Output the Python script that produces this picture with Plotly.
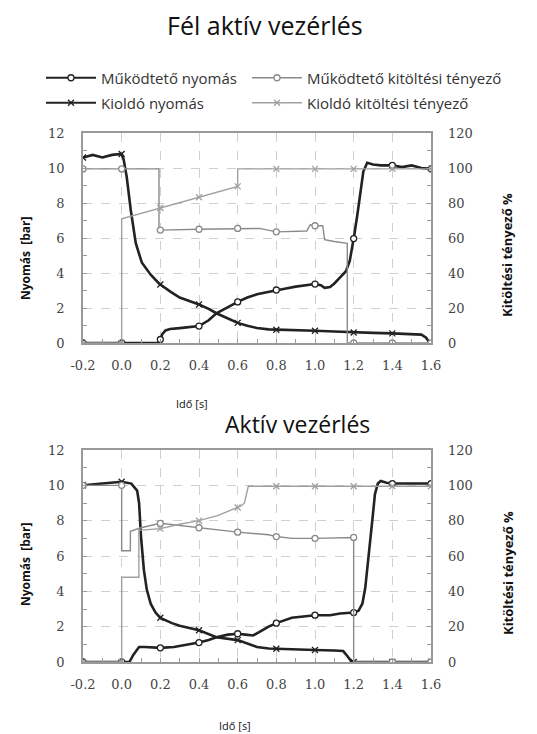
import numpy as np
import plotly.graph_objects as go

# the page body has an 8px default margin; lay the figure out in window pixels
W_WIN, H_WIN = 537, 734
OFF = 8
W, H = W_WIN - OFF, H_WIN - OFF

# ---------------- data ----------------
x_ticks = [-0.2, 0.0, 0.2, 0.4, 0.6, 0.8, 1.0, 1.2, 1.4, 1.6]
x_tick_labels = ["-0.2", "0.0", "0.2", "0.4", "0.6", "0.8", "1.0", "1.2", "1.4", "1.6"]
p_ticks = [0, 2, 4, 6, 8, 10, 12]
d_ticks = [0, 20, 40, 60, 80, 100, 120]

# Fél aktív vezérlés (top)
top_kp_t = [-0.2, -0.15, -0.1, -0.05, 0.0, 0.01, 0.026, 0.047, 0.073, 0.104, 0.15, 0.193, 0.25, 0.3,
            0.35, 0.4, 0.45, 0.49, 0.55, 0.6, 0.65, 0.7, 0.76, 0.8, 0.9, 1.0, 1.1, 1.2, 1.3, 1.4,
            1.5, 1.55, 1.575, 1.59, 1.6]
top_kp_v = [10.6, 10.75, 10.6, 10.75, 10.8, 10.5, 9.5, 7.6, 5.7, 4.6, 3.9, 3.4, 2.95, 2.6,
            2.4, 2.2, 1.95, 1.7, 1.4, 1.15, 0.98, 0.86, 0.78, 0.76, 0.72, 0.7, 0.66, 0.6, 0.58, 0.55,
            0.52, 0.48, 0.3, 0.05, 0.0]

top_mp_t = [-0.2, 0.0, 0.19, 0.2, 0.21, 0.227, 0.25, 0.3, 0.35, 0.4, 0.45, 0.49, 0.55, 0.6, 0.65,
            0.7, 0.75, 0.8, 0.85, 0.9, 0.95, 1.0, 1.03, 1.05, 1.078, 1.1, 1.13, 1.16, 1.18, 1.19,
            1.205, 1.22, 1.235, 1.25, 1.27, 1.3, 1.34, 1.4, 1.45, 1.5, 1.55, 1.6]
top_mp_v = [0, 0, 0, 0.2, 0.5, 0.72, 0.8, 0.85, 0.9, 0.97, 1.3, 1.7, 2.05, 2.35, 2.6,
            2.78, 2.9, 3.03, 3.12, 3.22, 3.3, 3.37, 3.3, 3.15, 3.2, 3.4, 3.75, 4.1, 4.7, 5.3,
            6.3, 7.4, 8.7, 9.8, 10.3, 10.2, 10.15, 10.15, 10.05, 10.15, 10.0, 9.95]

top_md_t = [-0.2, 0.193, 0.193, 0.2, 0.4, 0.6, 0.713, 0.8, 0.957, 0.975, 1.0, 1.04, 1.05, 1.1,
            1.156, 1.167, 1.167, 1.4, 1.6]
top_md_v = [99.5, 99.5, 65, 64.5, 65, 65.5, 65.5, 63.5, 64, 67.5, 67, 67, 59, 58,
            57.5, 57, 0, 0, 0]

top_kd_t = [-0.2, 0.0, 0.0, 0.6, 0.6, 1.6]
top_kd_v = [0, 0, 71, 89.5, 99.5, 99.5]

# Aktív vezérlés (bottom)
bot_kp_t = [-0.2, -0.1, 0.0, 0.05, 0.08, 0.09, 0.1, 0.115, 0.13, 0.15, 0.175, 0.2, 0.26, 0.3,
            0.4, 0.49, 0.6, 0.7, 0.76, 0.8, 0.9, 1.0, 1.1, 1.146, 1.17, 1.19, 1.6]
bot_kp_v = [10.0, 10.1, 10.2, 10.1, 9.7, 9.0, 7.1, 5.2, 4.1, 3.3, 2.8, 2.5, 2.2, 2.05,
            1.8, 1.4, 1.24, 0.85, 0.76, 0.75, 0.7, 0.68, 0.65, 0.62, 0.3, 0.0, 0.0]

bot_mp_t = [-0.2, 0.0, 0.04, 0.06, 0.09, 0.12, 0.2, 0.27, 0.33, 0.4, 0.45, 0.49, 0.55, 0.6, 0.64,
            0.68, 0.72, 0.76, 0.8, 0.88, 1.0, 1.078, 1.13, 1.2, 1.225, 1.245, 1.26, 1.27, 1.286,
            1.3, 1.31, 1.325, 1.34, 1.37, 1.4, 1.5, 1.6]
bot_mp_v = [0, 0, 0, 0.4, 0.85, 0.85, 0.8, 0.85, 0.96, 1.1, 1.25, 1.4, 1.55, 1.6, 1.55,
            1.5, 1.75, 2.0, 2.2, 2.5, 2.65, 2.65, 2.75, 2.8, 2.9, 3.3, 4.2, 5.2, 6.7,
            8.4, 9.5, 10.1, 10.25, 10.15, 10.1, 10.1, 10.1]

bot_md_t = [-0.2, 0.0, 0.0, 0.045, 0.045, 0.1, 0.2, 0.4, 0.6, 0.76, 0.8, 0.88, 1.0, 1.2, 1.2, 1.6]
bot_md_v = [100, 100, 63, 63, 74, 76, 78.5, 76, 73.5, 72, 71, 70, 70, 70.5, 0, 0]

bot_kd_t = [-0.2, 0.0, 0.0, 0.089, 0.089, 0.2, 0.3, 0.4, 0.5, 0.59, 0.62, 0.635, 0.645, 0.655, 1.6]
bot_kd_v = [0, 0, 48, 48, 74.5, 75.5, 78, 80, 83, 87, 88.5, 90, 95, 99.5, 99.5]

names = ["Működtető nyomás", "Működtető kitöltési tényező", "Kioldó nyomás", "Kioldó kitöltési tényező"]

# ---------------- style ----------------
DARK = "#222222"
GRAY = "#8a8a8a"
LGRAY = "#a0a0a0"
styles = {
    "mp": dict(color=DARK, width=2.6, symbol="circle", msize=6, mcolor=DARK),
    "md": dict(color=GRAY, width=1.4, symbol="circle", msize=6, mcolor=GRAY),
    "kp": dict(color=DARK, width=2.6, symbol="x-thin", msize=6, mcolor=DARK),
    "kd": dict(color=LGRAY, width=1.4, symbol="x-thin", msize=6, mcolor=LGRAY),
}


def px_x(p):
    return (p - OFF) / W


def px_y(p):
    return 1 - (p - OFF) / H


def markers_at(ts, vs):
    ts = np.asarray(ts, float)
    vs = np.asarray(vs, float)
    xs = np.asarray(x_ticks, float)
    ev = np.where(xs > ts[0], xs - 1e-7, xs)
    return xs, np.interp(ev, ts, vs)


def marker_style(s):
    return dict(symbol=s["symbol"], size=s["msize"], color="white",
                line=dict(color=s["mcolor"], width=1.3))


fig = go.Figure()


def add_series(t, v, key, xa, ya):
    s = styles[key]
    fig.add_trace(go.Scatter(x=t, y=v, mode="lines", xaxis=xa, yaxis=ya, showlegend=False,
                             line=dict(color=s["color"], width=s["width"]), hoverinfo="skip"))
    mx, my = markers_at(t, v)
    fig.add_trace(go.Scatter(x=mx, y=my, mode="markers", xaxis=xa, yaxis=ya, showlegend=False,
                             marker=marker_style(s), hoverinfo="skip"))


add_series(top_md_t, top_md_v, "md", "x", "y2")
add_series(top_kd_t, top_kd_v, "kd", "x", "y2")
add_series(top_kp_t, top_kp_v, "kp", "x", "y")
add_series(top_mp_t, top_mp_v, "mp", "x", "y")

add_series(bot_md_t, bot_md_v, "md", "x2", "y4")
add_series(bot_kd_t, bot_kd_v, "kd", "x2", "y4")
add_series(bot_kp_t, bot_kp_v, "kp", "x2", "y3")
add_series(bot_mp_t, bot_mp_v, "mp", "x2", "y3")

# legend entries (one legend per entry for exact placement)
leg_keys = ["mp", "md", "kp", "kd"]
leg_ids = ["legend", "legend2", "legend3", "legend4"]
for name, key, lid in zip(names, leg_keys, leg_ids):
    s = styles[key]
    fig.add_trace(go.Scatter(x=[None], y=[None], mode="lines+markers", name=name, legend=lid,
                             line=dict(color=s["color"], width=2.0 if key in ("mp", "kp") else 1.4),
                             marker=marker_style(s), xaxis="x", yaxis="y"))

leg_pos = {"legend": (41, 78), "legend2": (247, 78), "legend3": (41, 103), "legend4": (247, 103)}
LEGFONT = dict(family="Open Sans, sans-serif", size=15, color="#333333")
leg_layout = {}
for lid, (lx, ly) in leg_pos.items():
    leg_layout[lid] = dict(x=px_x(lx), y=px_y(ly), xanchor="left", yanchor="middle", itemwidth=50,
                           bgcolor="rgba(0,0,0,0)", font=LEGFONT, borderwidth=0)

TICKFONT = dict(family="DejaVu Serif, serif", size=13, color="#444444")
AX_LINE = "#9a9a9a"
GRID = "#cfcfcf"


def xaxis_cfg(anchor):
    return dict(domain=[px_x(83), px_x(431)], range=[-0.2, 1.6], anchor=anchor, automargin=False,
                tickmode="array", tickvals=x_ticks, ticktext=x_tick_labels,
                showgrid=True, gridcolor=GRID, griddash="dash", gridwidth=1,
                showline=True, linecolor=AX_LINE, linewidth=1.5, mirror=True,
                ticks="inside", ticklen=4, tickcolor=AX_LINE,
                minor=dict(dtick=0.1, tick0=-0.2, ticks="inside", ticklen=4, tickcolor=AX_LINE, showgrid=False),
                zeroline=False, tickfont=TICKFONT, ticklabelstandoff=10)


def yaxis_cfg(dom, anchor):
    return dict(domain=dom, range=[0, 12], anchor=anchor, automargin=False,
                tickmode="array", tickvals=p_ticks,
                showgrid=True, gridcolor=GRID, griddash="dash", gridwidth=1,
                showline=True, linecolor=AX_LINE, linewidth=1.5, mirror=True,
                ticks="inside", ticklen=4, tickcolor=AX_LINE,
                minor=dict(dtick=1, ticks="inside", ticklen=4, tickcolor=AX_LINE, showgrid=False),
                zeroline=False, tickfont=TICKFONT, ticklabelstandoff=14)


def y2axis_cfg(over, anchor):
    return dict(overlaying=over, side="right", range=[0, 120], anchor=anchor, automargin=False,
                tickmode="array", tickvals=d_ticks,
                showgrid=False, showline=False, zeroline=False,
                ticks="inside", ticklen=4, tickcolor=AX_LINE,
                minor=dict(dtick=10, ticks="inside", ticklen=4, tickcolor=AX_LINE, showgrid=False),
                tickfont=TICKFONT, ticklabelstandoff=16)


top_dom = [px_y(343), px_y(133)]
bot_dom = [px_y(662), px_y(450)]

fig.update_layout(
    width=W, height=H, margin=dict(l=0, r=0, t=0, b=0, autoexpand=False),
    paper_bgcolor="white", plot_bgcolor="white",
    xaxis=xaxis_cfg("y"), yaxis=yaxis_cfg(top_dom, "x"), yaxis2=y2axis_cfg("y", "x"),
    xaxis2=xaxis_cfg("y3"), yaxis3=yaxis_cfg(bot_dom, "x2"), yaxis4=y2axis_cfg("y3", "x2"),
    **leg_layout,
)

TITLEFONT = dict(family="Open Sans, sans-serif", color="#111111")
LABELFONT = dict(family="Open Sans, sans-serif", size=12, color="#111111")
ann = [
    dict(text="Fél aktív vezérlés", x=px_x(265), y=px_y(25), font=dict(size=25, **TITLEFONT)),
    dict(text="Aktív vezérlés", x=px_x(297), y=px_y(424), font=dict(size=23, **TITLEFONT)),
    dict(text="<b>Nyomás  [bar]</b>", x=px_x(25), y=px_y(258), textangle=-90, font=LABELFONT),
    dict(text="<b>Nyomás  [bar]</b>", x=px_x(25), y=px_y(564), textangle=-90, font=LABELFONT),
    dict(text="<b>Kitöltési tényező %</b>", x=px_x(507), y=px_y(255), textangle=-90, font=dict(LABELFONT, size=13)),
    dict(text="<b>Kitöltési tényező %</b>", x=px_x(508), y=px_y(573), textangle=-90, font=dict(LABELFONT, size=13)),
    dict(text="Idő [s]", x=px_x(192), y=px_y(403), font=dict(LABELFONT, size=11)),
    dict(text="Idő [s]", x=px_x(235), y=px_y(725), font=dict(LABELFONT, size=11)),
]
for a in ann:
    a.update(xref="paper", yref="paper", showarrow=False, xanchor="center", yanchor="middle")
fig.update_layout(annotations=ann)

fig.write_html("out.html")
